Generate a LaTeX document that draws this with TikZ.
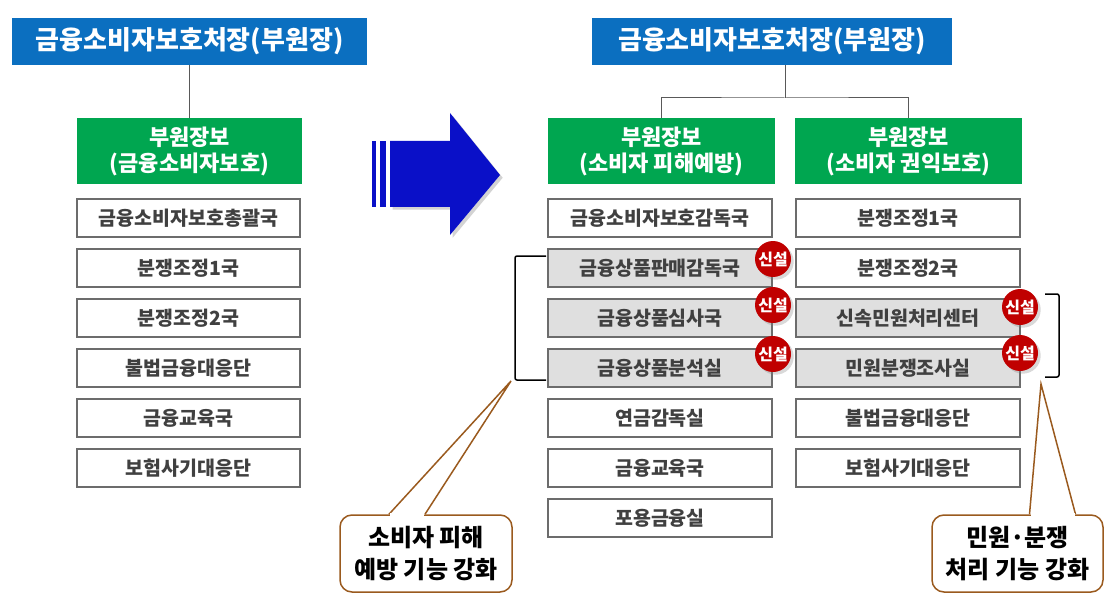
\documentclass[tikz,border=0pt]{standalone}
\usepackage{fontspec}
\setmainfont{Noto Sans CJK KR}
\usetikzlibrary{shadows}
\definecolor{hblue}{HTML}{0B6FC0}
\definecolor{hgreen}{HTML}{00A650}
\definecolor{badge}{HTML}{C00000}
\definecolor{brn}{HTML}{9A5A1E}
\definecolor{arrowblue}{HTML}{0A10C8}
\begin{document}
\begin{tikzpicture}[x=1pt,y=-1pt,
  head/.style={fill=hblue,draw=none,text=white,font=\fontsize{26}{28}\selectfont\bfseries,inner sep=0pt},
  grn/.style={fill=hgreen,draw=none,text=white,font=\fontsize{22}{26}\selectfont\bfseries,align=center,inner sep=0pt},
  wbox/.style={draw=gray!85!black,line width=1.4pt,fill=white,font=\fontsize{19.5}{22}\selectfont\bfseries,text=black!75,inner sep=0pt},
  gbox/.style={wbox,fill=gray!25},
  badgest/.style={circle,fill=badge,text=white,minimum size=36pt,inner sep=0pt,font=\fontsize{16}{17}\selectfont\bfseries,drop shadow={opacity=0.3}},
  call/.style={draw=brn,line width=1.5pt,rounded corners=12pt,fill=white,align=center,font=\fontsize{24}{32}\selectfont\bfseries,inner sep=0pt},
  conn/.style={draw=gray!70!black,line width=1pt}]
\useasboundingbox (0,0) rectangle (1116,604);
% left
\node[head,minimum width=355pt,minimum height=47pt] (lh) at (189.5,41.5) {금융소비자보호처장(부원장)};
\node[grn,minimum width=225pt,minimum height=66pt] (lg) at (189.5,151) {부원장보\\(금융소비자보호)};
\draw[conn] (lh.south) -- (lg.north);
\foreach \t [count=\i] in {금융소비자보호총괄국,분쟁조정1국,분쟁조정2국,불법금융대응단,금융교육국,보험사기대응단}
  \node[wbox,minimum width=223pt,minimum height=38pt] (l\i) at (188.5,{218+50*(\i-1)}) {\t};
% arrow
\fill[arrowblue] (372,141) rectangle (376,207);
\fill[arrowblue] (380,141) rectangle (386,207);
\fill[arrowblue,drop shadow={opacity=0.35}] (390,141) -- (450,141) -- (450,113) -- (500,175) -- (450,235) -- (450,207) -- (390,207) -- cycle;
% right
\node[head,minimum width=360pt,minimum height=47pt] (rh) at (772,41.5) {금융소비자보호처장(부원장)};
\node[grn,minimum width=227pt,minimum height=66pt] (g1) at (661.5,151) {부원장보\\(소비자 피해예방)};
\node[grn,minimum width=227pt,minimum height=66pt] (g2) at (908.5,151) {부원장보\\(소비자 권익보호)};
\coordinate (j) at (785,98);
\draw[conn] (rh.south -| j) -- (j);
\draw[conn] (g1.north) |- (j) -| (g2.north);
\foreach \t/\s [count=\i] in {금융소비자보호감독국/wbox,금융상품판매감독국/gbox,금융상품심사국/gbox,금융상품분석실/gbox,연금감독실/wbox,금융교육국/wbox,포용금융실/wbox}
  \node[\s,minimum width=224pt,minimum height=38pt] (a\i) at (660,{218+50*(\i-1)}) {\t};
\foreach \t/\s [count=\i] in {분쟁조정1국/wbox,분쟁조정2국/wbox,신속민원처리센터/gbox,민원분쟁조사실/gbox,불법금융대응단/wbox,보험사기대응단/wbox}
  \node[\s,minimum width=224pt,minimum height=38pt] (b\i) at (908,{218+50*(\i-1)}) {\t};
% badges
\node[badgest] (s1) at (773,259) {신설};
\node[badgest] (s2) at (773,305) {신설};
\node[badgest] (s3) at (773,354) {신설};
\node[badgest] (s4) at (1020,307) {신설};
\node[badgest] (s5) at (1020,353) {신설};
% brackets
\draw[line width=1.5pt,rounded corners=2pt] (546,256) -- (515,256) -- (515,380) -- (546,380);
\draw[line width=1.5pt,rounded corners=2pt] (1045,294) -- (1059,294) -- (1059,377) -- (1045,377);
% callouts
\coordinate (p1) at (511,381);
\coordinate (p2) at (1041,384);
\node[call,minimum width=172pt,minimum height=77pt] (c1) at (426,553.5) {소비자 피해\\예방 기능 강화};
\node[call,minimum width=171pt,minimum height=77pt] (c2) at (1017.5,553.5) {민원·분쟁\\처리 기능 강화};
\fill[white] ([xshift=-37pt]c1.north) -- (p1) -- ([xshift=-1pt]c1.north) -- cycle;
\draw[brn,line width=1.5pt] ([xshift=-37pt]c1.north) -- (p1) -- ([xshift=-1pt]c1.north);
\fill[white] ([xshift=12pt]c2.north) -- (p2) -- ([xshift=58pt]c2.north) -- cycle;
\draw[brn,line width=1.5pt] ([xshift=12pt]c2.north) -- (p2) -- ([xshift=58pt]c2.north);
\fill[white] ([xshift=-36pt,yshift=-1.5pt]c1.north) rectangle ([xshift=-2pt,yshift=1.5pt]c1.north);
\fill[white] ([xshift=13pt,yshift=-1.5pt]c2.north) rectangle ([xshift=57pt,yshift=1.5pt]c2.north);
\end{tikzpicture}
\end{document}
